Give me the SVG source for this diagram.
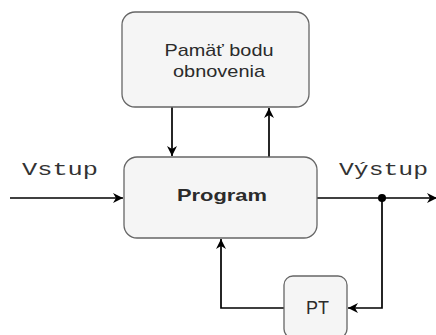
<svg xmlns="http://www.w3.org/2000/svg" width="436" height="335" viewBox="0 0 436 335">
<defs>
<style>
.box{fill:#f5f5f5;stroke:#666;stroke-width:1.3}
.lbl{font-family:"Liberation Sans",Arial,sans-serif;fill:#2b2b2b;text-anchor:middle}
.mono{font-family:"Liberation Mono","Courier New",monospace;font-size:19px;fill:#333}
.wire{fill:none;stroke:#000;stroke-width:1.7}
</style>
<marker id="arr" markerUnits="userSpaceOnUse" markerWidth="12" markerHeight="11" refX="10" refY="5.5" orient="auto">
<path d="M0,0.5 L10,5.5 L0,10.5 L3,5.5 Z" fill="#000"/>
</marker>
</defs>
<g id="connectors">
<path class="wire" d="M10,198 L123,198" marker-end="url(#arr)"/>
<path class="wire" d="M172,107 L172,156" marker-end="url(#arr)"/>
<path class="wire" d="M269,157 L269,108" marker-end="url(#arr)"/>
<path class="wire" d="M317,198 L437,198" marker-end="url(#arr)"/>
<path class="wire" d="M382,198 L382,308 L348,308" marker-end="url(#arr)"/>
<path class="wire" d="M284,308 L221,308 L221,239" marker-end="url(#arr)"/>
<circle cx="382" cy="198" r="4" fill="#000"/>
</g>
<g id="memory">
<rect class="box" x="122" y="12" width="187" height="95" rx="13"/>
<text class="lbl" x="219" y="56" font-size="17" textLength="109" lengthAdjust="spacingAndGlyphs">Pamäť bodu</text>
<text class="lbl" x="219" y="77" font-size="17" textLength="92" lengthAdjust="spacingAndGlyphs">obnovenia</text>
</g>
<g id="program">
<rect class="box" x="124" y="157" width="193" height="81" rx="13"/>
<text class="lbl" x="222" y="201" font-size="17" font-weight="bold" textLength="90" lengthAdjust="spacingAndGlyphs">Program</text>
</g>
<g id="pt">
<rect class="box" x="284" y="276" width="63" height="62" rx="9"/>
<text class="lbl" x="317.5" y="314" font-size="18" textLength="23" lengthAdjust="spacingAndGlyphs">PT</text>
</g>
<g id="labels">
<text class="mono" x="22" y="175" textLength="76" lengthAdjust="spacingAndGlyphs">Vstup</text>
<text class="mono" x="339" y="175" textLength="89" lengthAdjust="spacingAndGlyphs">Výstup</text>
</g>
</svg>
